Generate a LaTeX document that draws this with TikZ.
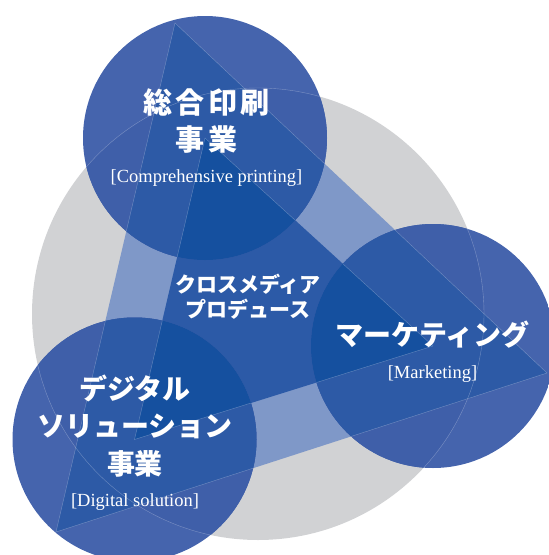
\documentclass[tikz,border=0pt]{standalone}
\usepackage{fontspec}
\setmainfont{Liberation Serif}
\newfontfamily\jpfont{Noto Sans CJK JP}
\usetikzlibrary{positioning}
\definecolor{grayfill}{HTML}{D1D2D4}
\definecolor{bandblue}{HTML}{7F98C8}
\definecolor{innerblue}{HTML}{2C5AA7}
\definecolor{ringwhite}{HTML}{4564AD}
\definecolor{ringgray}{HTML}{3F5FA9}
\definecolor{ringband}{HTML}{2D5AA6}
\definecolor{ringinner}{HTML}{15509F}
\tikzstyle{jp} = [text=white, align=center, inner sep=0pt]
\tikzstyle{en} = [text=white, inner sep=0pt, font=\fontsize{18.5}{20}\selectfont]
\tikzstyle{seam} = [draw=white, draw opacity=0.3, line width=0.4pt]
\newcommand{\graydisc}{(g) circle[radius=226pt]}
\newcommand{\outertri}{(ta) -- (ra) -- (la) -- cycle}
\newcommand{\innertri}{(tb) -- (rb) -- (lb) -- cycle}
\newcommand{\ringfill}{%
  \fill[ringwhite] (-10,-10) rectangle (600,600);
  \fill[ringgray] \graydisc;
  \fill[ringband] \outertri;
  \fill[ringinner] \innertri;
  \path[seam] \graydisc;
  \path[seam] \outertri;
  \path[seam] \innertri;}
\begin{document}
\begin{tikzpicture}[x=1pt, y=-1pt]
  \useasboundingbox (0,0) rectangle (549,555);
  \coordinate (g)  at (258,314);
  \coordinate (ta) at (175,23);
  \coordinate (ra) at (547,373);
  \coordinate (la) at (56,532);
  \coordinate (tb) at (205,138);
  \coordinate (rb) at (433,346);
  \coordinate (lb) at (134.5,439.5);
  \fill[grayfill]  \graydisc;
  \fill[bandblue]  \outertri;
  \fill[innerblue] \innertri;
  % the three rings
  \begin{scope}
    \clip (tb) circle[radius=122pt];
    \ringfill
  \end{scope}
  \begin{scope}
    \clip (rb) circle[radius=122pt];
    \ringfill
  \end{scope}
  \begin{scope}
    \clip (lb) circle[radius=122pt];
    \ringfill
  \end{scope}
  % labels
  \node [jp, font=\jpfont\bfseries\addfontfeatures{LetterSpace=12}\fontsize{29}{37}\selectfont] (print) at (206.5,121.5) {総合印刷\\事業};
  \node [en, below=15pt of print]  (printen) {[Comprehensive printing]};
  \node [jp, font=\jpfont\bfseries\fontsize{21}{25}\selectfont] (cross) at (248,296.5) {クロスメディア\\プロデュース};
  \node [jp, font=\jpfont\bfseries\fontsize{28}{37.5}\selectfont] (market) at (432.5,335) {マーケティング};
  \node [en, below=17pt of market] (marketen) {[Marketing]};
  \node [jp, font=\jpfont\bfseries\fontsize{28}{37.5}\selectfont] (digital) at (135,426) {デジタル\\ソリューション\\事業};
  \node [en, below=16pt of digital] (digitalen) {[Digital solution]};
\end{tikzpicture}
\end{document}
